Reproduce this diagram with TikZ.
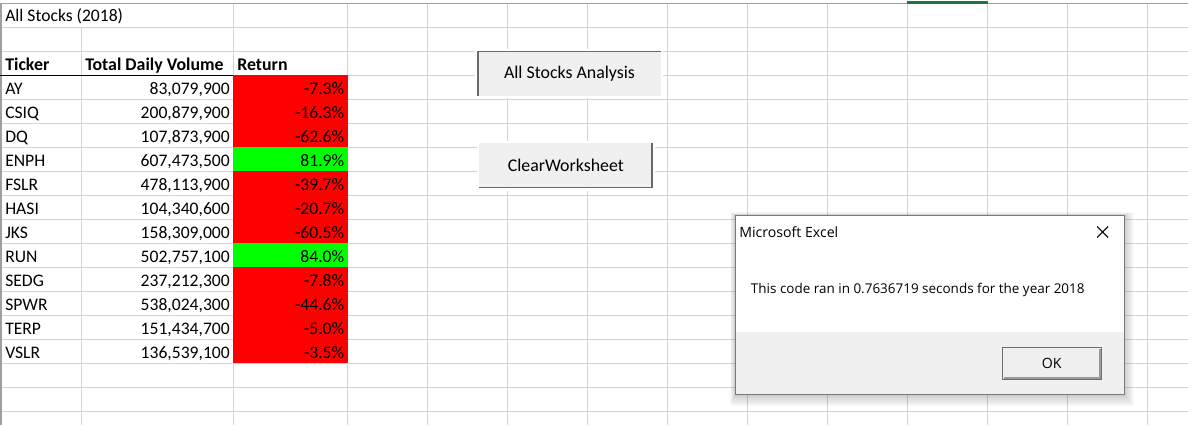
\documentclass[tikz,border=0pt]{standalone}
\usepackage{fontspec}
\setmainfont{Carlito}
\newfontfamily\uifont{Open Sans}
\definecolor{gridc}{HTML}{D4D4D4}
\definecolor{hdrc}{HTML}{A0A0A0}
\definecolor{xlred}{HTML}{FF0000}
\definecolor{xlgreen}{HTML}{00FF00}
\definecolor{btnface}{HTML}{F0F0F0}
\definecolor{btnedge}{HTML}{696969}
\definecolor{selgreen}{HTML}{217346}
\definecolor{dlgedge}{HTML}{7A7A7A}
\definecolor{okface}{HTML}{EFEFEF}
\definecolor{okedge}{HTML}{6E6E6E}
\tikzset{
  gridline/.style={draw=gridc, line width=0.75pt},
  cell/.style={inner sep=0pt, font=\fontsize{13.2}{15}\selectfont},
  lcell/.style={cell, anchor=base west},
  rcell/.style={cell, anchor=base east},
  hcell/.style={lcell, font=\fontsize{13.4}{15}\selectfont\bfseries},
  btnlabel/.style={inner sep=0pt, font=\fontsize{13.4}{15}\selectfont},
  uilabel/.style={inner sep=0pt, font=\uifont\fontsize{10.1}{12}\selectfont},
  bevel/.style={draw=btnedge, line width=1.2pt},
}
\begin{document}
\begin{tikzpicture}[x=0.75pt,y=-0.75pt]
\useasboundingbox (0,0) rectangle (1188,425);
\fill[white] (0,0) rectangle (1188,425);

% ---- gridlines ----
\foreach \k in {1,...,17} \draw[gridline] (0,{3.3+24*\k}) -- (1188,{3.3+24*\k});
\draw[gridline] (81.7,27.3) -- (81.7,425);
\foreach \x in {233.3,347.7,427.3,507.3,587.3,667.3,747.3,827.3,907.3,987.3,1067.3,1147.3}
  \draw[gridline] (\x,3.3) -- (\x,425);
\draw[draw=hdrc, line width=0.9pt] (0,3.3) -- (1188,3.3);
\draw[draw=hdrc, line width=0.9pt] (1,3.3) -- (1,425);
\fill[selgreen] (907.3,0.6) rectangle (987.7,3.6);

% ---- cell fills ----
\fill[xlred] (232.8,75.3) rectangle (348.2,363.3);
\fill[xlgreen] (232.8,147.3) rectangle (348.2,171.3);
\fill[xlgreen] (232.8,243.3) rectangle (348.2,267.3);
\draw[black, line width=0.9pt] (0,75.3) -- (233.3,75.3);

% ---- texts ----
\node[lcell] (title) at (5,21) {All Stocks (2018)};
\node[hcell] (hticker) at (5,70.3) {Ticker};
\node[hcell] (hvolume) at (85,70.3) {Total Daily Volume};
\node[hcell] (hreturn) at (237,70.3) {Return};
\foreach \tk/\vl/\rt [count=\i] in {
  AY/{83,079,900}/{-7.3\%},
  CSIQ/{200,879,900}/{-16.3\%},
  DQ/{107,873,900}/{-62.6\%},
  ENPH/{607,473,500}/{81.9\%},
  FSLR/{478,113,900}/{-39.7\%},
  HASI/{104,340,600}/{-20.7\%},
  JKS/{158,309,000}/{-60.5\%},
  RUN/{502,757,100}/{84.0\%},
  SEDG/{237,212,300}/{-7.8\%},
  SPWR/{538,024,300}/{-44.6\%},
  TERP/{151,434,700}/{-5.0\%},
  VSLR/{136,539,100}/{-3.5\%}}
{
  \pgfmathsetmacro\yb{70.8+24*\i}
  \node[lcell] (tick\i) at (5,\yb) {\tk};
  \node[rcell] (vol\i) at (230,\yb) {\vl};
  \node[rcell] (ret\i) at (344.5,\yb) {\rt};
}

% ---- button: All Stocks Analysis ----
\fill[white] (475,48.5) rectangle (663,98);
\fill[btnface] (477.3,50.7) rectangle (660.7,95.7);
\draw[bevel] (477.9,95.7) -- (477.9,51.3) -- (660.7,51.3);
\node[btnlabel] (btnall) at (569.5,74) {All Stocks Analysis};

% ---- button: ClearWorksheet ----
\fill[white] (477,140.5) rectangle (654.5,190.5);
\fill[btnface] (479.3,142.7) rectangle (652.3,188);
\draw[bevel] (479.3,187.4) -- (651.7,187.4) -- (651.7,142.7);
\node[btnlabel] (btnclear) at (565.8,165) {ClearWorksheet};

% ---- dialog shadow ----
\foreach \k in {1,...,10}
  \fill[black, opacity=0.018] ({735.3-0.5*\k},{215.3-0.3*\k}) rectangle ({1124.3+1.0*\k},{394.3+1.2*\k});

% ---- dialog ----
\fill[white] (735.3,215.3) rectangle (1124.3,394.3);
\fill[btnface] (735.3,331.7) rectangle (1124.3,394.3);
\draw[dlgedge, line width=0.9pt] (735.3,215.3) rectangle (1124.3,394.3);
\node[uilabel, anchor=west, font=\uifont\fontsize{10.6}{12}\selectfont] (dlgtitle) at (739,232) {Microsoft Excel};
\draw[black, line width=0.8pt] (1097.2,226.5) -- (1108.2,237.5)
                               (1097.2,237.5) -- (1108.2,226.5);
\node[uilabel, anchor=west] (dlgmsg) at (750.7,290) {This code ran in 0.7636719 seconds for the year 2018};

% ---- OK button ----
\fill[okface] (1002.3,347.3) rectangle (1101.3,379.3);
\draw[okedge, line width=0.9pt] (1002.3,347.3) rectangle (1101.3,379.3);
\draw[okedge!70, line width=0.9pt] (1003.5,378) -- (1100,378) -- (1100,348.5);
\node[uilabel, font=\uifont\fontsize{10.6}{12}\selectfont] (okbtn) at (1051.7,363.3) {OK};
\end{tikzpicture}
\end{document}
